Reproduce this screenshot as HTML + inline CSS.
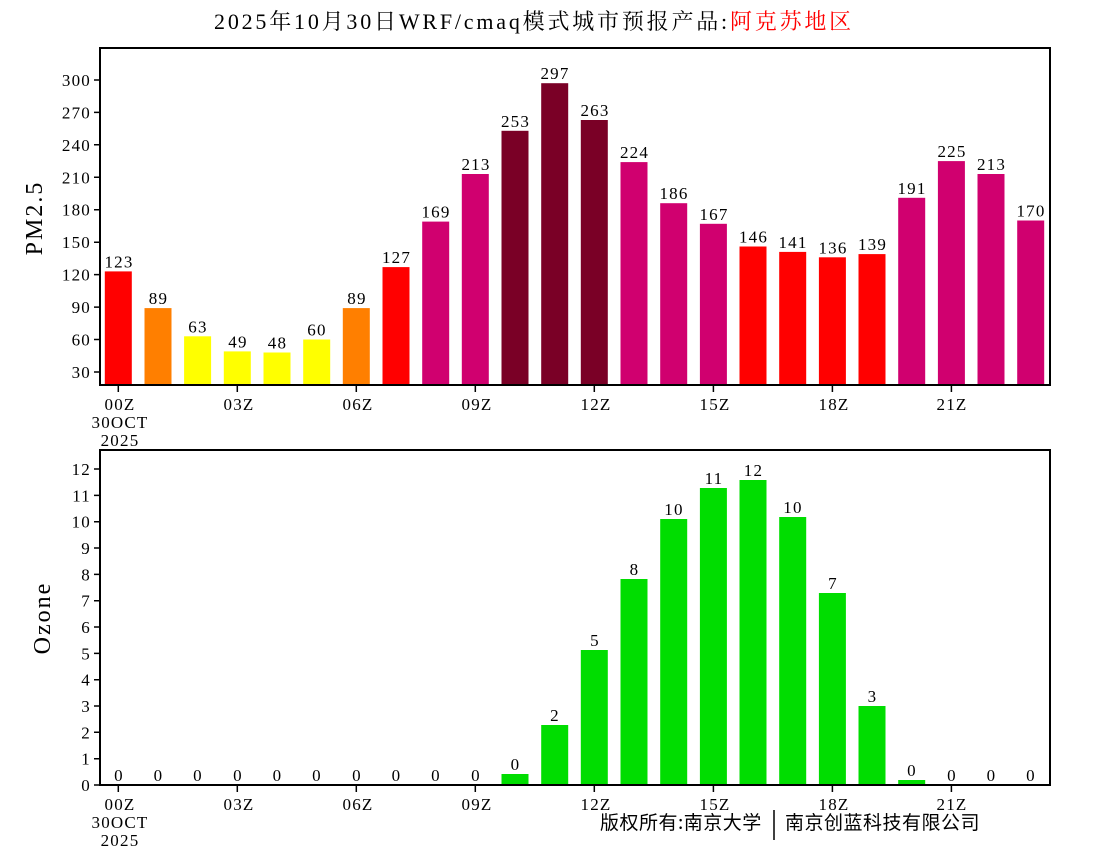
<!DOCTYPE html>
<html><head><meta charset="utf-8"><style>body{margin:0;background:#fff}svg{display:block}text{font-family:"Liberation Serif","Noto Serif CJK SC",serif;font-size:17px;letter-spacing:1.2px;fill:#000}</style></head><body>
<svg width="1100" height="850" xmlns="http://www.w3.org/2000/svg">
<text x="534" y="29" text-anchor="middle" style="font-size:22px;letter-spacing:2.8px">2025年10月30日WRF/cmaq模式城市预报产品:<tspan fill="#ff0000">阿克苏地区</tspan></text>
<g>
<rect x="104.8" y="271.4" width="27" height="113.6" fill="#ff0000"/>
<rect x="144.5" y="308.1" width="27" height="76.9" fill="#ff7f00"/>
<rect x="184.1" y="336.3" width="27" height="48.7" fill="#ffff00"/>
<rect x="223.8" y="351.4" width="27" height="33.6" fill="#ffff00"/>
<rect x="263.5" y="352.5" width="27" height="32.5" fill="#ffff00"/>
<rect x="303.2" y="339.5" width="27" height="45.5" fill="#ffff00"/>
<rect x="342.8" y="308.1" width="27" height="76.9" fill="#ff7f00"/>
<rect x="382.5" y="267.1" width="27" height="117.9" fill="#ff0000"/>
<rect x="422.2" y="221.6" width="27" height="163.4" fill="#d0006f"/>
<rect x="461.8" y="174.0" width="27" height="211" fill="#d0006f"/>
<rect x="501.5" y="130.8" width="27" height="254.2" fill="#7a0026"/>
<rect x="541.2" y="83.2" width="27" height="301.8" fill="#7a0026"/>
<rect x="580.8" y="120.0" width="27" height="265" fill="#7a0026"/>
<rect x="620.5" y="162.1" width="27" height="222.9" fill="#d0006f"/>
<rect x="660.2" y="203.2" width="27" height="181.8" fill="#d0006f"/>
<rect x="699.9" y="223.8" width="27" height="161.2" fill="#d0006f"/>
<rect x="739.5" y="246.5" width="27" height="138.5" fill="#ff0000"/>
<rect x="779.2" y="251.9" width="27" height="133.1" fill="#ff0000"/>
<rect x="818.9" y="257.3" width="27" height="127.7" fill="#ff0000"/>
<rect x="858.5" y="254.1" width="27" height="130.9" fill="#ff0000"/>
<rect x="898.2" y="197.8" width="27" height="187.2" fill="#d0006f"/>
<rect x="937.9" y="161.1" width="27" height="223.9" fill="#d0006f"/>
<rect x="977.5" y="174.0" width="27" height="211" fill="#d0006f"/>
<rect x="1017.2" y="220.5" width="27" height="164.5" fill="#d0006f"/>
</g>
<g text-anchor="middle">
<text x="119" y="267.4">123</text><text x="158.5" y="304.1">89</text><text x="198" y="332.3">63</text><text x="238" y="347.4">49</text><text x="277.5" y="348.5">48</text><text x="317" y="335.5">60</text><text x="357" y="304.1">89</text><text x="396.5" y="263.1">127</text><text x="436" y="217.6">169</text><text x="476" y="170">213</text><text x="515.5" y="126.8">253</text><text x="555" y="79.2">297</text><text x="595" y="116">263</text><text x="634.5" y="158.1">224</text><text x="674" y="199.2">186</text><text x="714" y="219.8">167</text><text x="753.5" y="242.5">146</text><text x="793" y="247.9">141</text><text x="833" y="253.3">136</text><text x="872.5" y="250.1">139</text><text x="912" y="193.8">191</text><text x="952" y="157.1">225</text><text x="991.5" y="170">213</text><text x="1031" y="216.5">170</text>
</g>
<rect x="100" y="48" width="950" height="337" fill="none" stroke="#000" stroke-width="2"/>
<g stroke="#000" stroke-width="1.5">
<path d="M94 372H100M94 339.5H100M94 307.1H100M94 274.6H100M94 242.2H100M94 209.7H100M94 177.3H100M94 144.8H100M94 112.4H100M94 80H100"/>
<path d="M118.3 385V392M237.3 385V392M356.3 385V392M475.3 385V392M594.3 385V392M713.4 385V392M832.4 385V392M951.4 385V392"/>
</g>
<g text-anchor="end">
<text x="91" y="378">30</text><text x="91" y="345.5">60</text><text x="91" y="313.1">90</text><text x="91" y="280.6">120</text><text x="91" y="248.2">150</text><text x="91" y="215.7">180</text><text x="91" y="183.3">210</text><text x="91" y="150.8">240</text><text x="91" y="118.4">270</text><text x="91" y="86">300</text>
</g>
<g text-anchor="middle">
<text x="120" y="410">00Z</text><text x="120" y="428">30OCT</text><text x="120" y="446">2025</text>
<text x="239" y="410">03Z</text><text x="358" y="410">06Z</text><text x="477" y="410">09Z</text><text x="596" y="410">12Z</text><text x="715" y="410">15Z</text><text x="834" y="410">18Z</text><text x="952" y="410">21Z</text>
</g>
<text transform="translate(42,218) rotate(-90)" text-anchor="middle" style="font-size:24px;letter-spacing:2px">PM2.5</text>

<g fill="#00dd00">
<rect x="184.1" y="784" width="27" height="1"/>
<rect x="263.5" y="784" width="27" height="1"/>
<rect x="501.5" y="774" width="27" height="11"/>
<rect x="541.2" y="725" width="27" height="60"/>
<rect x="580.8" y="650" width="27" height="135"/>
<rect x="620.5" y="579" width="27" height="206"/>
<rect x="660.2" y="519" width="27" height="266"/>
<rect x="699.9" y="488" width="27" height="297"/>
<rect x="739.5" y="480" width="27" height="305"/>
<rect x="779.2" y="517" width="27" height="268"/>
<rect x="818.9" y="593" width="27" height="192"/>
<rect x="858.5" y="706" width="27" height="79"/>
<rect x="898.2" y="780" width="27" height="5"/>
</g>
<g text-anchor="middle">
<text x="119" y="781">0</text><text x="158.5" y="781">0</text><text x="198" y="781">0</text><text x="238" y="781">0</text><text x="277.5" y="781">0</text><text x="317" y="781">0</text><text x="357" y="781">0</text><text x="396.5" y="781">0</text><text x="436" y="781">0</text><text x="476" y="781">0</text><text x="515.5" y="770">0</text><text x="555" y="721">2</text><text x="595" y="646">5</text><text x="634.5" y="575">8</text><text x="674" y="515">10</text><text x="714" y="484">11</text><text x="753.5" y="476">12</text><text x="793" y="513">10</text><text x="833" y="589">7</text><text x="872.5" y="702">3</text><text x="912" y="776">0</text><text x="952" y="781">0</text><text x="991.5" y="781">0</text><text x="1031" y="781">0</text>
</g>
<rect x="100" y="450" width="950" height="335" fill="none" stroke="#000" stroke-width="2"/>
<g stroke="#000" stroke-width="1.5">
<path d="M94 785H100M94 758.7H100M94 732.3H100M94 706H100M94 679.7H100M94 653.4H100M94 627H100M94 600.7H100M94 574.4H100M94 548H100M94 521.7H100M94 495.4H100M94 469H100"/>
<path d="M118.3 785V792M237.3 785V792M356.3 785V792M475.3 785V792M594.3 785V792M713.4 785V792M832.4 785V792M951.4 785V792"/>
</g>
<g text-anchor="end">
<text x="91" y="791">0</text><text x="91" y="764.7">1</text><text x="91" y="738.3">2</text><text x="91" y="712">3</text><text x="91" y="685.7">4</text><text x="91" y="659.4">5</text><text x="91" y="633">6</text><text x="91" y="606.7">7</text><text x="91" y="580.4">8</text><text x="91" y="554">9</text><text x="91" y="527.7">10</text><text x="91" y="501.4">11</text><text x="91" y="475">12</text>
</g>
<g text-anchor="middle">
<text x="120" y="810">00Z</text><text x="120" y="828">30OCT</text><text x="120" y="846">2025</text>
<text x="239" y="810">03Z</text><text x="358" y="810">06Z</text><text x="477" y="810">09Z</text><text x="596" y="810">12Z</text><text x="715" y="810">15Z</text><text x="834" y="810">18Z</text><text x="952" y="810">21Z</text>
</g>
<text transform="translate(50,618) rotate(-90)" text-anchor="middle" style="font-size:24px;letter-spacing:2px">Ozone</text>
<text x="600" y="829" style="font-size:19px;letter-spacing:0.5px;font-family:'Noto Sans CJK SC',sans-serif">版权所有:南京大学</text>
<line x1="774" y1="810" x2="774" y2="840" stroke="#000" stroke-width="1.5"/>
<text x="785" y="829" style="font-size:19px;letter-spacing:0.5px;font-family:'Noto Sans CJK SC',sans-serif">南京创蓝科技有限公司</text>
</svg>
</body></html>
